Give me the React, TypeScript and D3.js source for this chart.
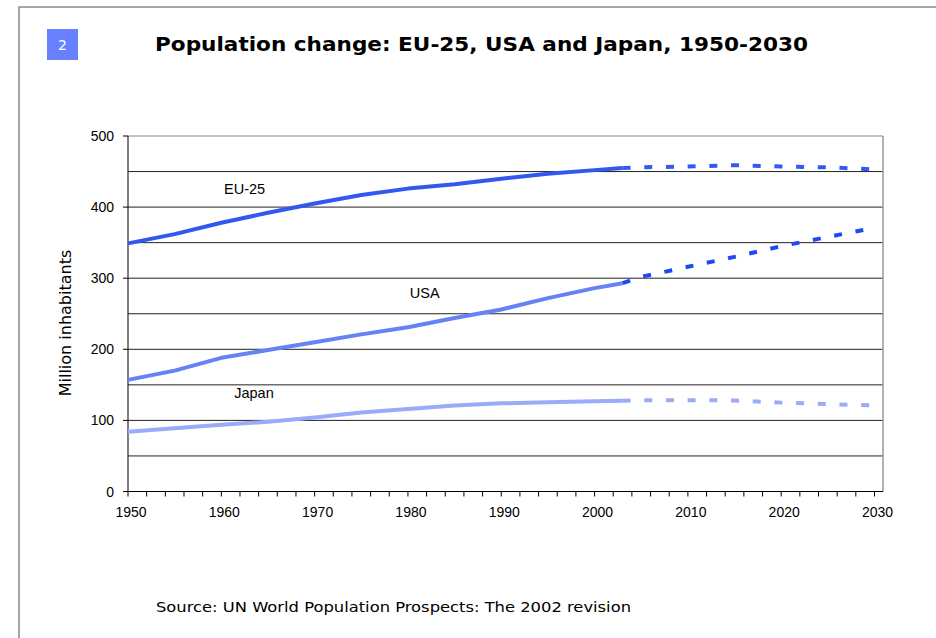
import React from "react";
import * as d3 from "d3";

const yearsHist = [1950, 1955, 1960, 1965, 1970, 1975, 1980, 1985, 1990, 1995, 2000, 2003];
const yearsProj = [2003, 2005, 2010, 2015, 2020, 2025, 2030];

const euHist = [349, 362, 378, 392, 405, 417, 426, 432, 440, 447, 452, 455];
const euProj = [455, 456, 457, 459, 457, 456, 453];
const usaHist = [157, 170, 188, 199, 210, 221, 231, 244, 256, 272, 286, 293];
const usaProj = [293, 302, 316, 330, 345, 358, 371];
const japanHist = [84, 89, 94, 98, 104, 111, 116, 121, 124, 125.5, 127, 127.5];
const japanProj = [127.5, 128.5, 128.5, 128, 125, 123, 121];

const yTicks = [0, 100, 200, 300, 400, 500];
const gridValues = [50, 100, 150, 200, 250, 300, 350, 400, 450];
const xLabels = [1950, 1960, 1970, 1980, 1990, 2000, 2010, 2020, 2030];
const xMinor = d3.range(1950, 2031, 2);

const seriesNames = ["EU-25", "USA", "Japan"];

export default function App() {
  const W = 936, H = 638;
  const plotL = 128, plotR = 883, plotT = 136, plotB = 491.5;
  const x = d3.scaleLinear().domain([1950, 2030]).range([128, 874.5]);
  const y = d3.scaleLinear().domain([0, 500]).range([plotB, plotT]);
  const line = d3.line<[number, number]>().x(d => x(d[0])).y(d => y(d[1]));
  const mk = (ys: number[], vs: number[]) => line(ys.map((yr, i) => [yr, vs[i]] as [number, number])) || "";

  const series = [
    { name: seriesNames[0], hist: euHist, proj: euProj, c: "#3358f0", cp: "#3358f5", lx: 1962.5, ly: 418 },
    { name: seriesNames[1], hist: usaHist, proj: usaProj, c: "#6682f5", cp: "#1f48f5", lx: 1981.8, ly: 272 },
    { name: seriesNames[2], hist: japanHist, proj: japanProj, c: "#9aabfa", cp: "#9aabfa", lx: 1963.5, ly: 131 },
  ];
  const font = "'Liberation Sans', Arial, sans-serif";
  const vfont = "'DejaVu Sans', Verdana, sans-serif";

  return (
    <svg width={W} height={H} style={{ position: "absolute", left: 0, top: 0, background: "#fff" }}>
      <rect x={19} y={7} width={W} height={H} fill="#fff" stroke="#888" strokeWidth={1.5} />
      <rect x={47} y={29} width={31} height={31} fill="#6680ff" />
      <text x={62.5} y={50} textAnchor="middle" fill="#fff" fontFamily={vfont} fontSize={14}>2</text>
      <text x={155} y={51} fontFamily={vfont} fontWeight="bold" fontSize={19} fill="#000" textLength={653} lengthAdjust="spacingAndGlyphs">
        Population change: EU-25, USA and Japan, 1950-2030
      </text>

      {gridValues.map(v => (
        <line key={v} x1={plotL} x2={plotR} y1={y(v)} y2={y(v)} stroke="#222" strokeWidth={1} />
      ))}
      <line x1={plotL} x2={plotR} y1={y(500)} y2={y(500)} stroke="#888" strokeWidth={1.2} />
      <line x1={plotR} x2={plotR} y1={plotT} y2={plotB} stroke="#999" strokeWidth={1.5} />

      <line x1={plotL} x2={plotL} y1={plotT} y2={plotB} stroke="#000" strokeWidth={1} />
      <line x1={plotL} x2={plotR} y1={plotB} y2={plotB} stroke="#000" strokeWidth={1} />
      {yTicks.map(v => (
        <g key={v}>
          <line x1={plotL - 5} x2={plotL} y1={y(v)} y2={y(v)} stroke="#000" />
          <text x={plotL - 14} y={y(v) + 5} textAnchor="end" fontFamily={font} fontSize={14} fill="#000">{v}</text>
        </g>
      ))}
      {xMinor.map(v => (
        <line key={v} x1={x(v)} x2={x(v)} y1={plotB} y2={plotB + 5} stroke="#000" />
      ))}
      {xLabels.map(v => (
        <text key={v} x={x(v) + 3} y={plotB + 25} textAnchor="middle" fontFamily={font} fontSize={14} fill="#000">{v}</text>
      ))}
      <text transform={`translate(71,${323}) rotate(-90)`} textAnchor="middle" fontFamily={vfont} fontSize={16} fill="#000">
        Million inhabitants
      </text>

      {series.map(s => (
        <g key={s.name}>
          <path d={mk(yearsHist, s.hist)} fill="none" stroke={s.c} strokeWidth={4} strokeLinejoin="round" />
          <path d={mk(yearsProj, s.proj)} fill="none" stroke={s.cp} strokeWidth={4} strokeDasharray="8,13.7" />
          <text x={x(s.lx)} y={y(s.ly)} textAnchor="middle" fontFamily={font} fontSize={14.5} fill="#000">{s.name}</text>
        </g>
      ))}

      <text x={156} y={612} fontFamily={vfont} fontSize={14} fill="#000" textLength={475} lengthAdjust="spacingAndGlyphs">
        Source: UN World Population Prospects: The 2002 revision
      </text>
    </svg>
  );
}
